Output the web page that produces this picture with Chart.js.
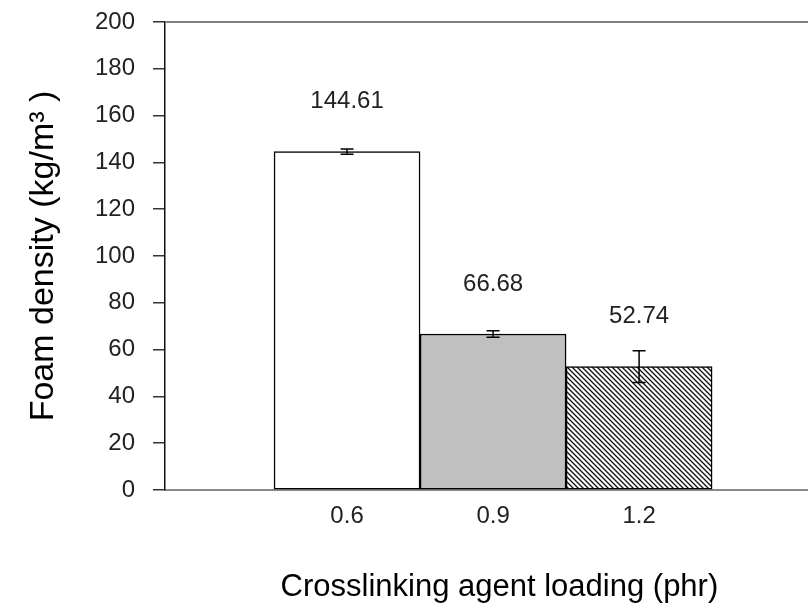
<!DOCTYPE html>
<html><head><meta charset="utf-8">
<script src="https://cdn.jsdelivr.net/npm/chart.js@4/dist/chart.umd.min.js"></script>
<style>html,body{margin:0;padding:0;background:#fff}#wrap{width:808px;height:610px;position:relative}</style>
</head><body><div id="wrap"><canvas id="c"></canvas></div>
<script>
const categories = [0.6, 0.9, 1.2];
const xTickLabels = ['0.6', '0.9', '1.2'];
const densities = [144.61, 66.68, 52.74];
const errors = [1.15, 1.4, 6.8];
const valueLabels = ['144.61', '66.68', '52.74'];
const yMin = 0, yMax = 200, yStep = 20;
const yTitle = 'Foam density (kg/m\u00B3 )';
const xTitle = '   Crosslinking agent loading (phr)';
const FONT = "'Liberation Sans', Arial, sans-serif";

function hatch() {
  const s = 5, c = document.createElement('canvas');
  c.width = s; c.height = s;
  const g = c.getContext('2d');
  g.fillStyle = '#fff'; g.fillRect(0, 0, s, s);
  g.strokeStyle = '#111'; g.lineWidth = 1.3;
  g.beginPath();
  g.moveTo(-1, -1); g.lineTo(s + 1, s + 1);
  g.moveTo(-1, s - 1); g.lineTo(1, s + 1);
  g.moveTo(s - 1, -1); g.lineTo(s + 1, 1);
  g.stroke();
  return document.getElementById('c').getContext('2d').createPattern(c, 'repeat');
}

const extras = {
  id: 'extras',
  afterDatasetsDraw(chart) {
    const ctx = chart.ctx, xs = chart.scales.x, ys = chart.scales.y, a = chart.chartArea;
    ctx.save();
    ctx.strokeStyle = '#808080'; ctx.lineWidth = 2;
    ctx.beginPath(); ctx.moveTo(a.left, a.top); ctx.lineTo(a.right, a.top); ctx.stroke();
    ctx.strokeStyle = '#000'; ctx.lineWidth = 1.5;
    categories.forEach((c, i) => {
      const x = xs.getPixelForValue(c);
      const yt = ys.getPixelForValue(densities[i] + errors[i]);
      const yb = ys.getPixelForValue(densities[i] - errors[i]);
      ctx.beginPath();
      ctx.moveTo(x, yt); ctx.lineTo(x, yb);
      ctx.moveTo(x - 6.5, yt); ctx.lineTo(x + 6.5, yt);
      ctx.moveTo(x - 6.5, yb); ctx.lineTo(x + 6.5, yb);
      ctx.stroke();
    });
    ctx.fillStyle = '#222';
    ctx.font = '24px ' + FONT;
    ctx.textAlign = 'center'; ctx.textBaseline = 'middle';
    categories.forEach((c, i) => {
      const x = xs.getPixelForValue(c);
      const y = ys.getPixelForValue(densities[i]);
      ctx.fillText(valueLabels[i], x, y - 50);
    });
    ctx.restore();
  }
};

new Chart(document.getElementById('c'), {
  type: 'bar',
  data: {
    datasets: [{
      data: categories.map((c, i) => ({x: c, y: densities[i]})),
      backgroundColor: ['#ffffff', '#c0c0c0', hatch()],
      borderColor: '#000',
      borderWidth: 1.5,
      borderSkipped: false,
      barPercentage: 1,
      categoryPercentage: 1
    }]
  },
  options: {
    responsive: true,
    maintainAspectRatio: false,
    animation: false,
    layout: {padding: {top: 22, right: 0, left: 0, bottom: 0}},
    plugins: {legend: {display: false}, tooltip: {enabled: false}},
    scales: {
      x: {
        type: 'linear',
        offset: false,
        min: 0.226,
        max: 1.547,
        afterBuildTicks: s => { s.ticks = categories.map(v => ({value: v})); },
        afterFit: s => { s.height = 120; s.paddingLeft = 0; s.paddingRight = 0; },
        grid: {display: false, drawTicks: false},
        border: {display: true, color: '#8a8a8a', width: 2},
        ticks: {
          callback: (v, i) => xTickLabels[i],
          font: {family: FONT, size: 24},
          color: '#222',
          padding: 12,
          maxRotation: 0,
          autoSkip: false
        },
        title: {
          display: true,
          text: xTitle,
          font: {family: FONT, size: 31},
          color: '#000',
          padding: {top: 0, bottom: 4}
        }
      },
      y: {
        min: yMin,
        max: yMax,
        afterFit: s => { s.width = 165; s.paddingTop = 0; s.paddingBottom = 0; },
        ticks: {
          stepSize: yStep,
          font: {family: FONT, size: 24},
          color: '#222',
          padding: 18
        },
        grid: {drawOnChartArea: false, drawTicks: true, tickLength: 12, color: '#333', lineWidth: 1.5},
        border: {display: true, color: '#111', width: 1.5},
        title: {
          display: true,
          text: yTitle,
          font: {family: FONT, size: 34},
          color: '#000',
          padding: {top: 23, bottom: 0}
        }
      }
    }
  },
  plugins: [extras]
});
</script>
</body></html>
